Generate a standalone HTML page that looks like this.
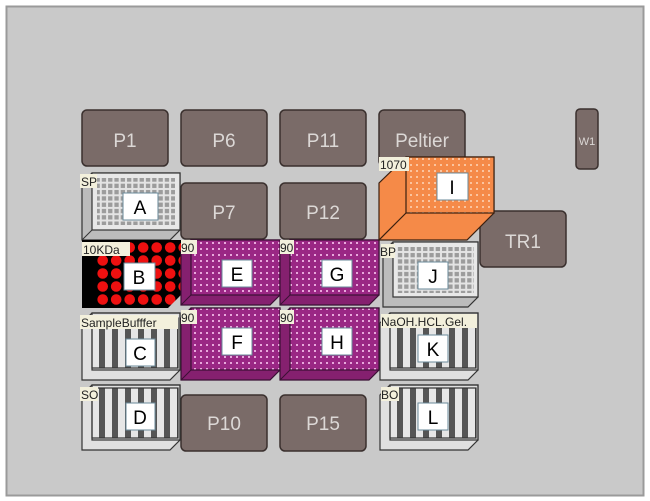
<!DOCTYPE html>
<html><head><meta charset="utf-8"><style>
html,body{margin:0;padding:0;background:#fff;width:650px;height:501px;overflow:hidden}
svg{display:block}
text{font-family:"Liberation Sans","DejaVu Sans",sans-serif}
</style></head><body>
<svg width="650" height="501" viewBox="0 0 650 501" xmlns="http://www.w3.org/2000/svg">
<defs>
<pattern id="grid" width="6.3" height="6.3" patternUnits="userSpaceOnUse"><rect width="6.3" height="6.3" fill="#e4e4e4"/><rect x="1" y="1" width="4.3" height="4.3" fill="#9c9c9c"/></pattern>
<pattern id="red" width="13.5" height="13" patternUnits="userSpaceOnUse" x="96" y="241"><rect width="13.5" height="13" fill="#000"/><circle cx="6.7" cy="6.5" r="5.3" fill="#ee1010"/></pattern>
<pattern id="mag" width="6" height="6" patternUnits="userSpaceOnUse"><rect width="6" height="6" fill="#9a2784"/><rect x="2" y="2" width="2" height="2" fill="#e8a8dc"/></pattern>
<pattern id="org" width="6" height="6" patternUnits="userSpaceOnUse"><rect width="6" height="6" fill="#f58a48"/><rect x="2" y="2" width="2" height="2" fill="#fbc49e"/></pattern>
<pattern id="bars" width="13" height="10" patternUnits="userSpaceOnUse" x="92"><rect width="13" height="10" fill="#e6e6e6"/><rect x="7" width="6" height="10" fill="#555"/></pattern>
<pattern id="bars2" width="13" height="10" patternUnits="userSpaceOnUse" x="390"><rect width="13" height="10" fill="#e6e6e6"/><rect x="7" width="6" height="10" fill="#555"/></pattern>
</defs>
<rect x="0" y="0" width="650" height="501" fill="#fff"/>
<rect x="6.5" y="6.5" width="637" height="489" fill="#c9c9c9" stroke="#9a9a9a" stroke-width="2"/>

<!-- P tiles -->
<g fill="#7a6b68" stroke="#3a302e" stroke-width="1.5">
<rect x="82" y="110" width="86" height="56" rx="5"/>
<rect x="181" y="110" width="86" height="56" rx="5"/>
<rect x="280" y="110" width="86" height="56" rx="5"/>
<rect x="379" y="110" width="86" height="56" rx="5"/>
<rect x="181" y="183" width="86" height="56" rx="5"/>
<rect x="280" y="183" width="86" height="56" rx="5"/>
<rect x="181" y="395" width="86" height="56" rx="5"/>
<rect x="280" y="395" width="86" height="56" rx="5"/>
<rect x="480" y="211" width="86" height="56" rx="5"/>
<rect x="576" y="109" width="22" height="60" rx="4"/>
</g>
<g fill="#dcd8d6" font-size="19" text-anchor="middle">
<text x="125" y="147">P1</text><text x="224" y="147">P6</text><text x="323" y="147">P11</text><text x="422" y="147">Peltier</text>
<text x="224" y="219">P7</text><text x="323" y="219">P12</text>
<text x="224" y="430">P10</text><text x="323" y="430">P15</text>
<text x="523" y="248">TR1</text><text x="587" y="145" font-size="11">W1</text>
</g>

<!-- A -->
<polygon points="82,183 92,173 180,173 180,230 170,240 82,240" fill="#bcbcbc" stroke="#333" stroke-width="1.2"/>
<rect x="92" y="173" width="88" height="57" fill="#e8e8e8" stroke="#333" stroke-width="1.2"/>
<rect x="97" y="178" width="78" height="47" fill="url(#grid)"/>
<line x1="82" y1="240" x2="92" y2="230" stroke="#333"/>
<!-- J -->
<polygon points="383,252 393,242 478,242 478,297 468,307 383,307" fill="#bcbcbc" stroke="#333" stroke-width="1.2"/>
<rect x="393" y="242" width="85" height="55" fill="#e8e8e8" stroke="#333" stroke-width="1.2"/>
<rect x="397" y="247" width="77" height="46" fill="url(#grid)"/>

<!-- B -->
<rect x="82" y="240" width="100" height="68" fill="#000"/>
<rect x="96" y="241" width="85" height="66" fill="url(#red)"/>
<polygon points="168,308 182,294 182,308" fill="#c9c9c9"/>

<!-- magenta E G F H -->
<g stroke="#3a1034" stroke-width="1.2">
<polygon points="181,250 191,240 280,240 280,295 270,305 181,305" fill="#85206f"/>
<rect x="191" y="240" width="89" height="55" fill="url(#mag)"/>
<polygon points="280,250 290,240 379,240 379,295 369,305 280,305" fill="#85206f"/>
<rect x="290" y="240" width="89" height="55" fill="url(#mag)"/>
<polygon points="181,318 191,308 280,308 280,370 270,380 181,380" fill="#85206f"/>
<rect x="191" y="308" width="89" height="62" fill="url(#mag)"/>
<polygon points="280,318 290,308 379,308 379,370 369,380 280,380" fill="#85206f"/>
<rect x="290" y="308" width="89" height="62" fill="url(#mag)"/>
</g>
<g stroke="#3a1034"><line x1="181" y1="305" x2="191" y2="295"/><line x1="280" y1="305" x2="290" y2="295"/><line x1="181" y1="380" x2="191" y2="370"/><line x1="280" y1="380" x2="290" y2="370"/></g>

<!-- I orange -->
<polygon points="379,183 406,157 494,157 494,213 467,240 379,240" fill="#f58a48" stroke="#3a2010" stroke-width="1.2"/>
<rect x="406" y="157" width="88" height="56" fill="url(#org)" stroke="#3a2010" stroke-width="1.2"/>
<line x1="379" y1="240" x2="406" y2="213" stroke="#3a2010" stroke-width="1.2"/>

<!-- tube racks C D K L -->
<g stroke="#333" stroke-width="1.2">
<polygon points="82,323 92,313 180,313 180,370 170,380 82,380" fill="#e0e0e0"/>
<rect x="92" y="318" width="86" height="50" fill="url(#bars)"/>
<rect x="92" y="313" width="88" height="57" fill="none"/>
<polygon points="82,395 92,385 180,385 180,440 170,450 82,450" fill="#e0e0e0"/>
<rect x="92" y="388" width="86" height="50" fill="url(#bars)"/>
<rect x="92" y="385" width="88" height="55" fill="none"/>
<polygon points="380,323 390,313 478,313 478,370 468,380 380,380" fill="#e0e0e0"/>
<rect x="390" y="318" width="86" height="50" fill="url(#bars2)"/>
<rect x="390" y="313" width="88" height="57" fill="none"/>
<polygon points="380,395 390,385 478,385 478,440 468,450 380,450" fill="#e0e0e0"/>
<rect x="390" y="388" width="86" height="50" fill="url(#bars2)"/>
<rect x="390" y="385" width="88" height="55" fill="none"/>
</g>

<!-- small tag labels -->
<g font-size="12" fill="#222">
<rect x="80" y="174" width="17" height="14" fill="#f3f0dc"/><text x="81" y="186">SP</text>
<rect x="82" y="242" width="48" height="14" fill="#f3f0dc"/><text x="83" y="254">10KDa</text>
<rect x="181" y="240" width="16" height="14" fill="#f3f0dc"/><text x="181" y="252">90</text>
<rect x="280" y="240" width="14" height="14" fill="#f3f0dc"/><text x="280" y="252">90</text>
<rect x="181" y="310" width="16" height="14" fill="#f3f0dc"/><text x="181" y="322">90</text>
<rect x="280" y="310" width="14" height="14" fill="#f3f0dc"/><text x="280" y="322">90</text>
<rect x="80" y="315" width="98" height="14" fill="#f3f0dc"/><text x="81" y="327">SampleBufffer</text>
<rect x="80" y="387" width="18" height="14" fill="#f3f0dc"/><text x="81" y="399">SO</text>
<rect x="379" y="157" width="30" height="14" fill="#f3f0dc"/><text x="380" y="169">1070</text>
<rect x="381" y="244" width="14" height="14" fill="#f3f0dc"/><text x="380" y="256">BP</text>
<rect x="381" y="314" width="96" height="14" fill="#f3f0dc"/><text x="381" y="326">NaOH.HCL.Gel.</text>
<rect x="381" y="387" width="18" height="14" fill="#f3f0dc"/><text x="381" y="399">BO</text>
</g>

<!-- letter labels -->
<g fill="#fff" stroke="#6a8a9a" stroke-width="1">
<rect x="123" y="193" width="35" height="27"/><rect x="124" y="263" width="31" height="27"/>
<rect x="222" y="260" width="30" height="27"/><rect x="322" y="260" width="30" height="27"/>
<rect x="222" y="328" width="30" height="27"/><rect x="322" y="328" width="30" height="27"/>
<rect x="126" y="339" width="29" height="27"/><rect x="126" y="403" width="29" height="27"/>
<rect x="437" y="173" width="31" height="27"/><rect x="418" y="262" width="30" height="27"/>
<rect x="418" y="335" width="30" height="27"/><rect x="418" y="403" width="30" height="27"/>
</g>
<g fill="#000" font-size="19" text-anchor="middle">
<text x="140" y="214">A</text><text x="139" y="284">B</text>
<text x="237" y="281">E</text><text x="337" y="281">G</text>
<text x="237" y="349">F</text><text x="337" y="349">H</text>
<text x="140" y="360">C</text><text x="140" y="424">D</text>
<text x="452" y="194">I</text><text x="433" y="283">J</text>
<text x="433" y="356">K</text><text x="433" y="424">L</text>
</g>
</svg>
</body></html>
